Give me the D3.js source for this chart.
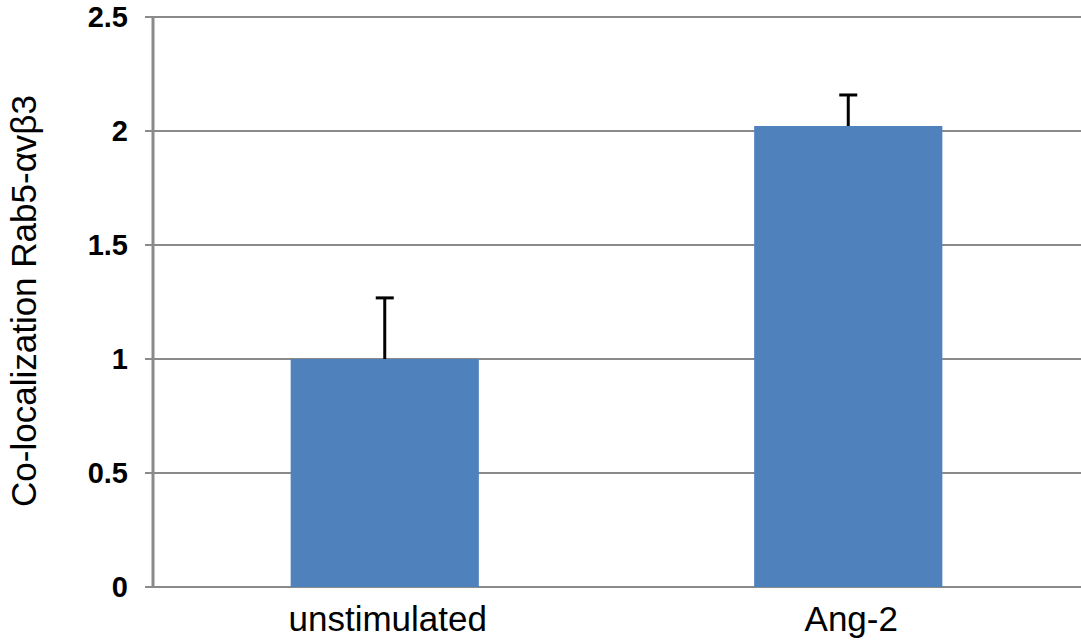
<!DOCTYPE html>
<html><head><meta charset="utf-8">
<script src="https://cdn.jsdelivr.net/npm/d3@7"></script>
<style>body{margin:0;background:#fff}svg{display:block}</style>
</head><body><svg id="c" width="1081" height="641"></svg>
<script>
const categories = ["unstimulated", "Ang-2"];
const values = [1.0, 2.022];
const errors = [0.268, 0.136];
const yTicks = [0, 0.5, 1, 1.5, 2, 2.5];
const yTickLabels = ["0", "0.5", "1", "1.5", "2", "2.5"];
const yTitle = "Co-localization Rab5-αvβ3";

const svg = d3.select("#c");
const L = 153, R = 1080, T = 17, B = 587;
const x = d3.scaleBand().domain(categories).range([L, R]).paddingInner(0.594).paddingOuter(0.297);
const y = d3.scaleLinear().domain([0, 2.5]).range([B, T]);

// gridlines
svg.append("g").selectAll("line").data(yTicks).join("line")
  .attr("x1", L - 8).attr("x2", 1081)
  .attr("y1", d => y(d)).attr("y2", d => y(d))
  .attr("stroke", "#8a8a8a").attr("stroke-width", 2);

// bars
svg.append("g").selectAll("rect").data(categories).join("rect")
  .attr("x", d => x(d)).attr("width", x.bandwidth())
  .attr("y", (d, i) => y(values[i])).attr("height", (d, i) => B - y(values[i]))
  .attr("fill", "#4f81bd");

// error bars
const eg = svg.append("g").attr("stroke", "#000").attr("stroke-width", 3);
categories.forEach((c, i) => {
  const cx = x(c) + x.bandwidth() / 2;
  eg.append("line").attr("x1", cx).attr("x2", cx)
    .attr("y1", y(values[i])).attr("y2", y(values[i] + errors[i]));
  eg.append("line").attr("x1", cx - 9).attr("x2", cx + 9)
    .attr("y1", y(values[i] + errors[i])).attr("y2", y(values[i] + errors[i]));
});

// y axis line
svg.append("line").attr("x1", L).attr("x2", L).attr("y1", T).attr("y2", B)
  .attr("stroke", "#8a8a8a").attr("stroke-width", 3);

// y tick labels
svg.append("g").selectAll("text").data(yTicks).join("text")
  .attr("x", 128).attr("y", d => y(d)).attr("dy", "0.36em")
  .attr("text-anchor", "end")
  .attr("font-family", "Liberation Sans, Arial, sans-serif")
  .attr("font-weight", "bold").attr("font-size", 29)
  .text((d, i) => yTickLabels[i]);

// x labels
svg.append("g").selectAll("text").data(categories).join("text")
  .attr("x", d => x(d) + x.bandwidth() / 2 + 3).attr("y", 631)
  .attr("text-anchor", "middle")
  .attr("font-family", "Liberation Sans, Arial, sans-serif")
  .attr("font-size", 35).attr("fill", "#000")
  .text(d => d);

// y title
svg.append("text")
  .attr("transform", "translate(36,301) rotate(-90)")
  .attr("text-anchor", "middle")
  .attr("font-family", "Liberation Sans, Arial, sans-serif")
  .attr("font-size", 35).attr("fill", "#000")
  .text(yTitle);
</script></body></html>
